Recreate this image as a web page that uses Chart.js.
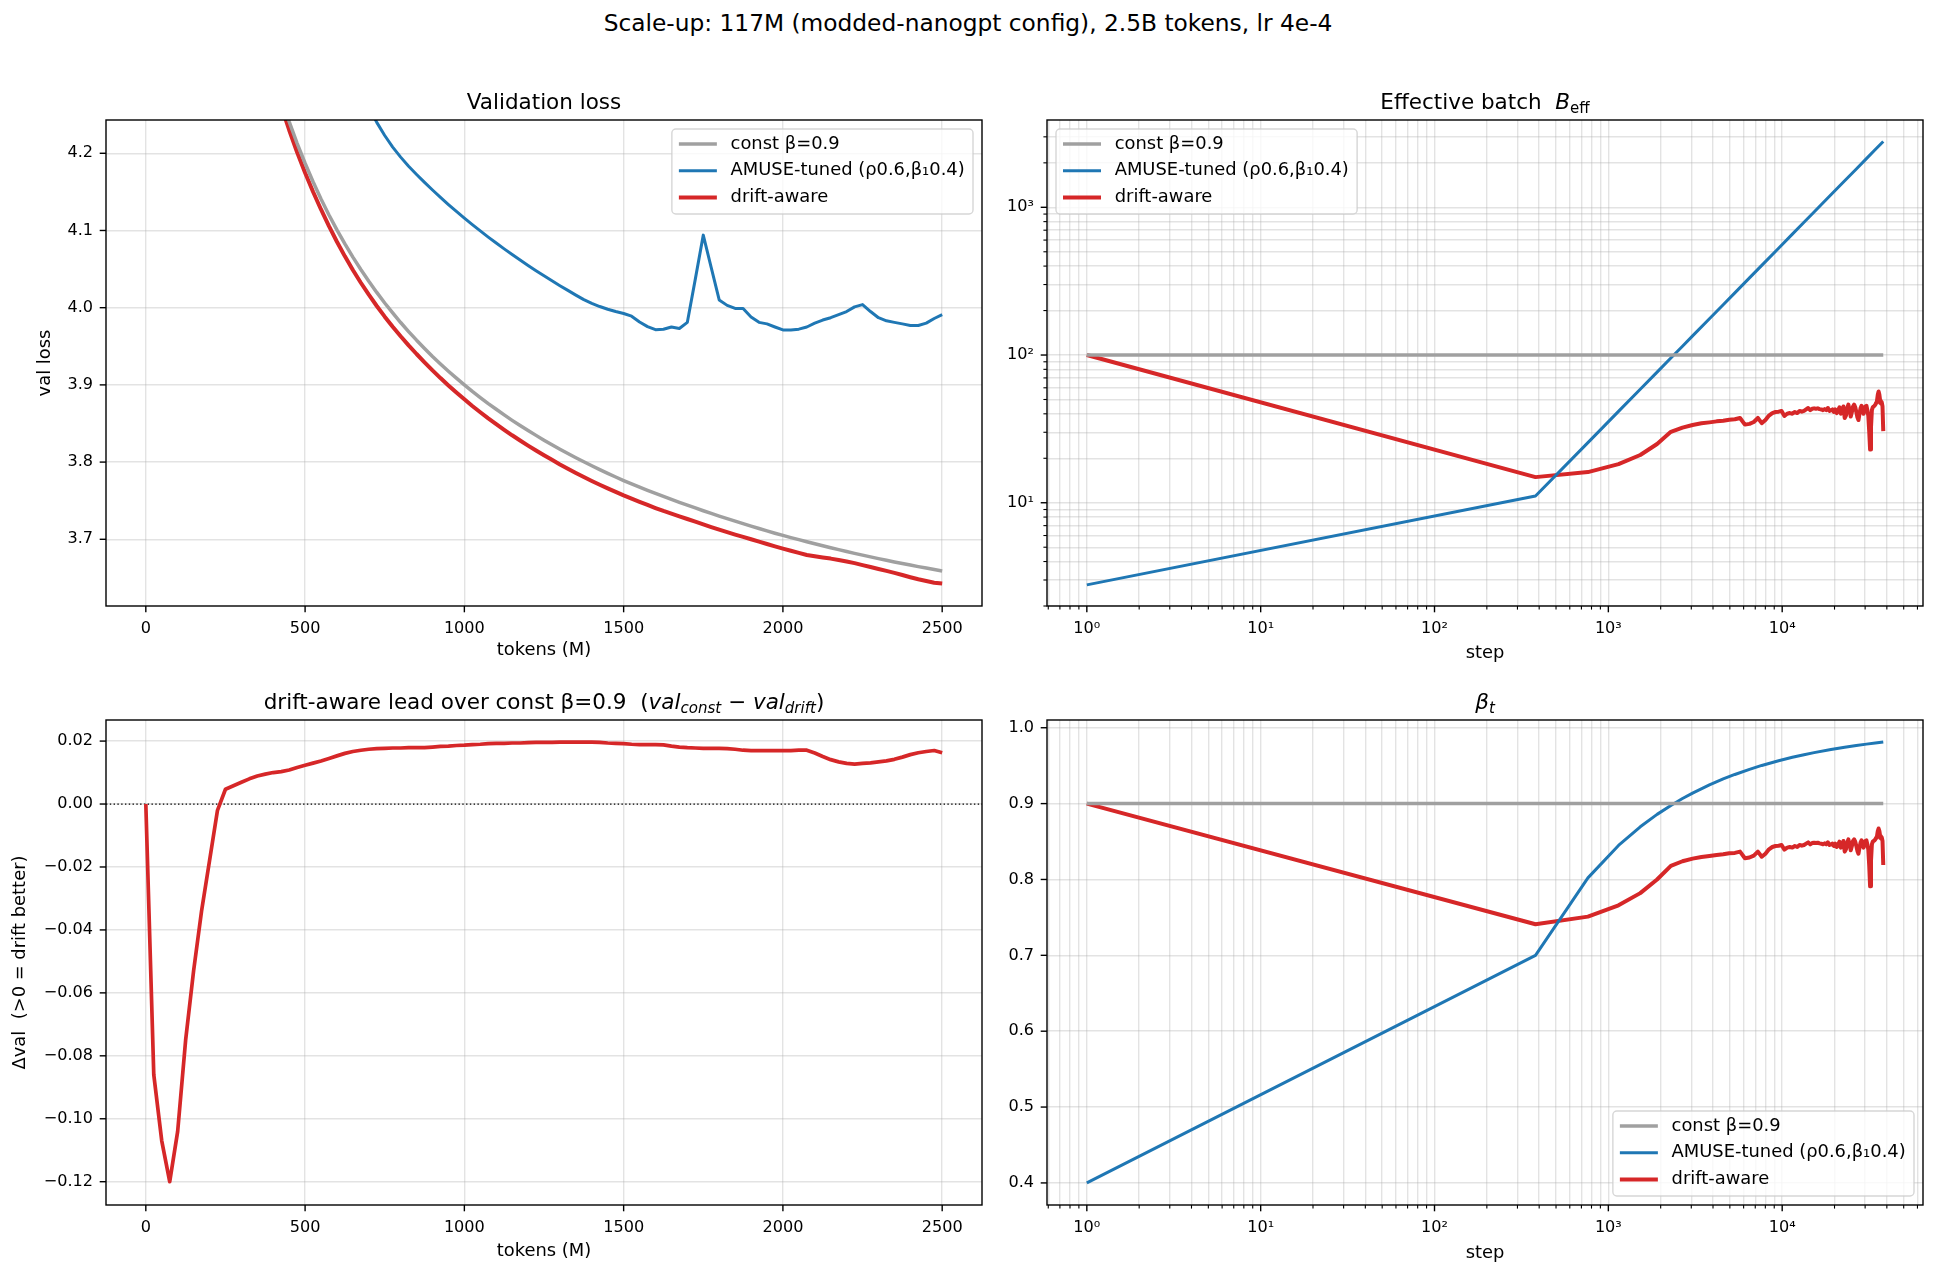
<!DOCTYPE html>
<html>
<head>
<meta charset="utf-8">
<script src="https://cdn.jsdelivr.net/npm/chart.js@4.4.1/dist/chart.umd.min.js"></script>
<style>
  html, body { margin: 0; padding: 0; background: #fff; }
  #fig { position: relative; width: 1936px; height: 1276px; overflow: hidden; background: #fff; }
  #fig canvas { position: absolute; }
  #sup { position: absolute; left: 0; top: 9px; width: 1936px; line-height: 28px; text-align: center;
         font: 23.3px 'DejaVu Sans', sans-serif; color: #000; }
</style>
</head>
<body>
<div id="fig">
  <div id="sup">Scale-up: 117M (modded-nanogpt config), 2.5B tokens, lr 4e-4</div>
  <canvas id="valLoss" width="995" height="670" style="left:0;top:0"></canvas>
  <canvas id="beff" width="941" height="670" style="left:995px;top:0"></canvas>
  <canvas id="lead" width="995" height="606" style="left:0;top:670px"></canvas>
  <canvas id="beta" width="941" height="606" style="left:995px;top:670px"></canvas>
</div>
<script>
// ---- data ----
const tokens = [0,25,50,75,100,125,150,175,200,225,250,275,300,325,350,375,400,425,450,475,
  500,525,550,575,600,625,650,675,700,725,750,775,800,825,850,875,900,925,950,975,
  1000,1025,1050,1075,1100,1125,1150,1175,1200,1225,1250,1275,1300,1325,1350,1375,1400,1425,1450,1475,
  1500,1525,1550,1575,1600,1625,1650,1675,1700,1725,1750,1775,1800,1825,1850,1875,1900,1925,1950,1975,
  2000,2025,2050,2075,2100,2125,2150,2175,2200,2225,2250,2275,2300,2325,2350,2375,2400,2425,2450,2475,2500];

// val loss; early points are far above the visible range
const valConst = [null,null,null,null,null,null,null,null,null,null,null,null,null,null,null,null,
  4.3050,4.2716,4.2410,4.2129,4.1871,4.1631,4.1409,4.1201,4.1007,4.0826,4.0655,4.0494,4.0342,4.0198,4.0061,3.9932,
  3.9808,3.9691,3.9579,3.9472,3.9369,3.9271,3.9177,3.9087,3.9000,3.8916,3.8836,3.8758,3.8684,3.8611,3.8541,3.8474,
  3.8409,3.8346,3.8284,3.8225,3.8167,3.8111,3.8057,3.8004,3.7953,3.7903,3.7854,3.7807,3.7761,3.7717,3.7675,3.7634,
  3.7594,3.7555,3.7517,3.7479,3.7442,3.7406,3.7370,3.7335,3.7301,3.7268,3.7235,3.7203,3.7171,3.7140,3.7109,3.7079,
  3.7050,3.7022,3.6995,3.6968,3.6942,3.6916,3.6891,3.6866,3.6842,3.6818,3.6795,3.6772,3.6750,3.6728,3.6707,3.6686,
  3.6666,3.6646,3.6627,3.6608,3.6590];
const valAmuse = [null,null,null,null,null,null,null,null,null,null,null,null,null,null,null,null,
  null,null,null,null,null,null,null,null,null,null,null,null,
  4.2600,4.2400,4.2230,4.2080,4.1950,4.1831,4.1725,4.1623,4.1524,4.1429,4.1336,4.1247,
  4.1160,4.1076,4.0994,4.0914,4.0837,4.0762,4.0688,4.0617,4.0547,4.0479,4.0413,4.0348,4.0285,4.0224,4.0163,4.0104,
  4.0055,4.0015,3.9980,3.9950,3.9925,3.9890,3.9815,3.9755,3.9715,3.9720,3.9750,3.9730,3.9810,4.0370,4.0940,4.0520,
  4.0100,4.0030,3.9990,3.9990,3.9880,3.9810,3.9790,3.9750,3.9712,3.9712,3.9722,3.9750,3.9800,3.9840,3.9870,3.9910,
  3.9950,4.0010,4.0040,3.9950,3.9870,3.9830,3.9810,3.9790,3.9770,3.9770,3.9800,3.9860,3.9910];
const valDrift = [null,null,null,null,null,null,null,null,null,null,null,null,null,null,null,null,
  4.2950,4.2613,4.2302,4.2013,4.1748,4.1501,4.1272,4.1056,4.0854,4.0665,4.0488,4.0323,4.0168,4.0022,3.9884,3.9754,
  3.9630,3.9512,3.9400,3.9293,3.9188,3.9088,3.8993,3.8901,3.8813,3.8727,3.8646,3.8566,3.8491,3.8418,3.8347,3.8280,
  3.8214,3.8150,3.8088,3.8029,3.7970,3.7914,3.7860,3.7807,3.7756,3.7707,3.7660,3.7614,3.7569,3.7527,3.7486,3.7445,
  3.7405,3.7367,3.7333,3.7298,3.7263,3.7228,3.7193,3.7158,3.7124,3.7092,3.7061,3.7032,3.7001,3.6970,3.6939,3.6909,
  3.6880,3.6852,3.6824,3.6797,3.6780,3.6765,3.6750,3.6732,3.6713,3.6691,3.6666,3.6641,3.6616,3.6591,3.6565,3.6537,
  3.6509,3.6483,3.6460,3.6438,3.6427];

// val_const - val_drift
const leadVal = [0.000,-0.086,-0.107,-0.120,-0.104,-0.075,-0.053,-0.034,-0.018,-0.002,
  0.0047,0.0058,0.0069,0.0080,0.0089,0.0095,0.0100,0.0103,0.0108,0.0116,
  0.0123,0.0130,0.0137,0.0145,0.0153,0.0161,0.0167,0.0171,0.0174,0.0176,
  0.0177,0.0178,0.0178,0.0179,0.0179,0.0179,0.0181,0.0183,0.0184,0.0186,
  0.0187,0.0189,0.0190,0.0192,0.0193,0.0193,0.0194,0.0194,0.0195,0.0196,
  0.0196,0.0196,0.0197,0.0197,0.0197,0.0197,0.0197,0.0196,0.0194,0.0193,
  0.0192,0.0190,0.0189,0.0189,0.0189,0.0188,0.0184,0.0181,0.0179,0.0178,
  0.0177,0.0177,0.0177,0.0176,0.0174,0.0171,0.0170,0.0170,0.0170,0.0170,
  0.0170,0.0170,0.0171,0.0171,0.0162,0.0151,0.0141,0.0134,0.0129,0.0127,
  0.0129,0.0131,0.0134,0.0137,0.0142,0.0149,0.0157,0.0163,0.0167,0.0170,
  0.0163];

// optimizer steps of the eval points (right-hand panels)
const steps = [1,381,763,1144,1526,1907,2289,2670,3052,3433,3815,4196,4578,4959,5341,5722,6104,6485,6866,7248,
  7629,8011,8392,8774,9155,9537,9918,10300,10681,11063,11444,11826,12207,12589,12970,13351,13733,14114,14496,14877,
  15259,15640,16022,16403,16785,17166,17548,17929,18311,18692,19074,19455,19836,20218,20599,20981,21362,21744,22125,22507,
  22888,23270,23651,24033,24414,24796,25177,25558,25940,26321,26703,27084,27466,27847,28229,28610,28992,29373,29755,30136,
  30518,30899,31281,31662,32043,32425,32806,33188,33569,33951,34332,34714,35095,35477,35858,36240,36621,37003,37384,37766,38147];

const betaDrift = [0.900,0.741,0.751,0.766,0.782,0.800,0.818,0.824,0.8275,0.8297,
  0.831,0.8323,0.8332,0.8345,0.835,0.8367,0.828,0.829,0.8315,0.8367,
  0.830,0.834,0.8397,0.8428,0.8441,0.8445,0.8454,0.8393,0.842,0.8428,
  0.842,0.8441,0.8428,0.8454,0.8445,0.8454,0.8472,0.8489,0.8463,0.848,
  0.8485,0.848,0.8485,0.8476,0.8472,0.8463,0.8476,0.8463,0.8489,0.8454,
  0.8463,0.8472,0.8441,0.8472,0.8428,0.8463,0.8498,0.842,0.8454,0.8507,
  0.8367,0.8397,0.8485,0.8528,0.8463,0.8385,0.8441,0.8507,0.8528,0.8498,
  0.8441,0.8376,0.834,0.842,0.8485,0.8515,0.8472,0.842,0.8454,0.8507,
  0.8515,0.8463,0.8397,0.819,0.791,0.8244,0.8463,0.8498,0.8507,0.8515,
  0.8528,0.855,0.857,0.8638,0.8672,0.8638,0.857,0.854,0.8555,0.8507,
  0.819];
const beffDrift = [100,14.91,16.13,18.26,21.04,25.0,30.19,32.28,33.61,34.48,
  35.01,35.56,35.94,36.51,36.73,37.50,33.80,34.20,35.22,37.50,
  34.60,36.29,38.92,40.47,41.14,41.36,41.84,38.72,40.06,40.47,
  40.06,41.14,40.47,41.84,41.36,41.84,42.83,43.80,42.33,43.28,
  43.57,43.28,43.57,43.05,42.83,42.33,43.05,42.33,43.80,41.84,
  42.33,42.83,41.14,42.83,40.47,42.33,44.33,40.06,41.84,44.86,
  37.50,38.92,43.57,46.15,42.33,38.34,41.14,44.86,46.15,44.33,
  41.14,37.92,36.29,40.06,43.57,45.35,42.83,40.06,41.84,44.86,
  45.35,42.33,38.92,30.52,22.89,32.43,42.33,44.33,44.86,45.35,
  46.15,47.56,48.90,53.91,56.70,53.91,48.90,46.91,47.89,44.86,
  30.52];

const amuseSteps = [1,381,763,1144,1526,1907,2289,2670,3052,3815,4578,5341,6485,7629,9537,11444,13351,15259,19074,22888,26703,30518,34332,38147];
const betaAmuse = [0.400,0.700,0.8021,0.8448,0.8694,0.8858,0.8976,0.9067,0.9138,0.9246,0.9325,0.9384,0.9452,0.9503,0.9565,0.9610,0.9645,0.9672,0.9713,0.9743,0.9766,0.9784,0.9798,0.9811];
const beffAmuse = [2.78,11.11,25.53,41.53,58.65,76.65,95.42,114.8,134.7,176.1,219.2,263.7,332.9,404.5,528.7,658.2,791.7,929.5,1214.9,1511.7,1818.5,2135.4,2460.5,2790.6];

const constSteps = [1, 38147];
const betaConst = [0.9, 0.9];
const beffConst = [100, 100];

const labels = ['const β=0.9', 'AMUSE-tuned (ρ0.6,β₁0.4)', 'drift-aware'];

// ticks
const tokenTicks = [0, 500, 1000, 1500, 2000, 2500];
const lossTicks = [3.7, 3.8, 3.9, 4.0, 4.1, 4.2];
const leadTicks = [-0.12, -0.10, -0.08, -0.06, -0.04, -0.02, 0, 0.02];
const betaTicks = [0.4, 0.5, 0.6, 0.7, 0.8, 0.9, 1.0];
const stepTicks = [0.6,0.7,0.8,0.9,1,2,3,4,5,6,7,8,9,10,20,30,40,50,60,70,80,90,
  100,200,300,400,500,600,700,800,900,1000,2000,3000,4000,5000,6000,7000,8000,9000,
  10000,20000,30000,40000,50000,60000];
const beffTicks = [2,3,4,5,6,7,8,9,10,20,30,40,50,60,70,80,90,100,200,300,400,500,600,700,800,900,1000,2000,3000];

// ---- styling ----
const FONT = "'DejaVu Sans', sans-serif";
Chart.defaults.font.family = FONT;
Chart.defaults.color = '#000';
const GRID = 'rgba(176,176,176,0.35)';
const C_CONST = '#a0a0a0', C_AMUSE = '#1f77b4', C_DRIFT = '#d62728';
const W_CONST = 3.5, W_AMUSE = 3.0, W_DRIFT = 4.0;
const SUP = {'0': '⁰', '1': '¹', '2': '²', '3': '³', '4': '⁴'};

function isPow10(v) {
  const e = Math.log10(v);
  return Math.abs(e - Math.round(e)) < 1e-9;
}
const fmtPow = v => isPow10(v) ? '10' + SUP[String(Math.round(Math.log10(v)))] : '';

function series(label, xs, ys, color, width) {
  return {
    label, data: xs.map((x, i) => ({x, y: ys[i]})),
    borderColor: color, backgroundColor: color, borderWidth: width,
    pointRadius: 0, tension: 0, fill: false, borderJoinStyle: 'round', spanGaps: false
  };
}

function axis(o) {
  return {
    type: o.type, min: o.min, max: o.max,
    afterBuildTicks: s => { s.ticks = o.ticks.map(v => ({value: v})); },
    afterFit: s => {
      if (o.width !== undefined) s.width = o.width;
      if (o.height !== undefined) s.height = o.height;
    },
    grid: {color: GRID, lineWidth: 1.4, drawTicks: false},
    border: {display: false},
    ticks: {autoSkip: false, maxRotation: 0, minRotation: 0, padding: 13,
            font: {size: 16.1}, color: '#000', callback: o.fmt},
    title: o.title
      ? {display: true, text: o.title, font: {size: 17.9}, color: '#000', padding: o.titlePad}
      : {display: false}
  };
}

// ---- plugins ----
const frame = {
  id: 'frame',
  afterDatasetsDraw(chart) {
    const {ctx, chartArea: a} = chart;
    ctx.save();
    ctx.strokeStyle = '#000';
    ctx.lineWidth = 1.4;
    ctx.strokeRect(a.left, a.top, a.right - a.left, a.bottom - a.top);
    ctx.restore();
  }
};

const tickMarks = {
  id: 'tickMarks',
  afterDraw(chart) {
    const {ctx, chartArea: a} = chart;
    ctx.save();
    ctx.strokeStyle = '#000';
    ['x', 'y'].forEach(id => {
      const s = chart.scales[id];
      s.ticks.forEach(t => {
        const major = s.type !== 'logarithmic' || isPow10(t.value);
        const len = major ? 6.3 : 3.6;
        ctx.lineWidth = major ? 1.4 : 1.1;
        const p = s.getPixelForValue(t.value);
        ctx.beginPath();
        if (id === 'x') { ctx.moveTo(p, a.bottom); ctx.lineTo(p, a.bottom + len); }
        else { ctx.moveTo(a.left, p); ctx.lineTo(a.left - len, p); }
        ctx.stroke();
      });
    });
    ctx.restore();
  }
};

function richTitle(segs) {
  return {
    id: 'richTitle',
    afterDraw(chart) {
      const {ctx, chartArea: a} = chart;
      const size = 21.5;
      ctx.save();
      const parts = segs.map(s => {
        const fs = s.sub ? size * 0.7 : size;
        const font = (s.it ? 'italic ' : '') + fs + 'px ' + FONT;
        ctx.font = font;
        return {t: s.t, font, sub: s.sub, w: ctx.measureText(s.t).width};
      });
      const total = parts.reduce((acc, p) => acc + p.w, 0);
      let x = (a.left + a.right) / 2 - total / 2;
      const base = a.top - 11.5;
      ctx.fillStyle = '#000';
      ctx.textAlign = 'left';
      ctx.textBaseline = 'alphabetic';
      parts.forEach(p => {
        ctx.font = p.font;
        ctx.fillText(p.t, x, base + (p.sub ? size * 0.2 : 0));
        x += p.w;
      });
      ctx.restore();
    }
  };
}

function legendBox(pos) {
  return {
    id: 'legendBox',
    afterDatasetsDraw(chart) {
      const {ctx, chartArea: a} = chart;
      const items = chart.data.datasets.filter(d => d.label);
      ctx.save();
      ctx.font = '17.9px ' + FONT;
      const tw = Math.max(...items.map(d => ctx.measureText(d.label).width));
      const w = tw + 67, h = 85, m = 9;
      const L = pos === 'ul' ? a.left + m : a.right - m - w;
      const T = pos === 'lr' ? a.bottom - m - h : a.top + m;
      ctx.beginPath();
      ctx.roundRect(L, T, w, h, 4);
      ctx.fillStyle = 'rgba(255,255,255,0.8)';
      ctx.fill();
      ctx.strokeStyle = 'rgba(204,204,204,0.8)';
      ctx.lineWidth = 1.4;
      ctx.stroke();
      items.forEach((d, i) => {
        const y = T + 15 + i * 26.7;
        ctx.beginPath();
        ctx.moveTo(L + 7, y);
        ctx.lineTo(L + 45, y);
        ctx.strokeStyle = d.borderColor;
        ctx.lineWidth = d.borderWidth;
        ctx.stroke();
        ctx.fillStyle = '#000';
        ctx.textAlign = 'left';
        ctx.textBaseline = 'middle';
        ctx.fillText(d.label, L + 58.7, y);
      });
      ctx.restore();
    }
  };
}

const zeroLine = {
  id: 'zeroLine',
  beforeDatasetsDraw(chart) {
    const {ctx, chartArea: a, scales: {y}} = chart;
    const py = y.getPixelForValue(0);
    ctx.save();
    ctx.strokeStyle = '#000';
    ctx.lineWidth = 1.2;
    ctx.setLineDash([1.43, 2.36]);
    ctx.beginPath();
    ctx.moveTo(a.left, py);
    ctx.lineTo(a.right, py);
    ctx.stroke();
    ctx.restore();
  }
};

function baseOptions(padTop, xAxis, yAxis) {
  return {
    responsive: false, animation: false, devicePixelRatio: 1,
    layout: {padding: {left: 0, right: 13, top: padTop, bottom: 0}, autoPadding: false},
    plugins: {legend: {display: false}, tooltip: {enabled: false}},
    scales: {x: xAxis, y: yAxis}
  };
}

// ---- top left: validation loss ----
new Chart(document.getElementById('valLoss'), {
  type: 'line',
  data: {datasets: [
    series(labels[0], tokens, valConst, C_CONST, W_CONST),
    series(labels[1], tokens, valAmuse, C_AMUSE, W_AMUSE),
    series(labels[2], tokens, valDrift, C_DRIFT, W_DRIFT)
  ]},
  options: baseOptions(120,
    axis({type: 'linear', min: -125, max: 2625, ticks: tokenTicks, fmt: v => String(v),
          height: 64, title: 'tokens (M)', titlePad: {top: 0, bottom: 8.6}}),
    axis({type: 'linear', min: 3.6136, max: 4.2431, ticks: lossTicks, fmt: v => v.toFixed(1),
          width: 106, title: 'val loss', titlePad: {top: 34.8, bottom: 0}})),
  plugins: [frame, tickMarks, richTitle([{t: 'Validation loss'}]), legendBox('ur')]
});

// ---- top right: effective batch ----
new Chart(document.getElementById('beff'), {
  type: 'line',
  data: {datasets: [
    series(labels[0], constSteps, beffConst, C_CONST, W_CONST),
    series(labels[1], amuseSteps, beffAmuse, C_AMUSE, W_AMUSE),
    series(labels[2], steps, beffDrift, C_DRIFT, W_DRIFT)
  ]},
  options: baseOptions(120,
    axis({type: 'logarithmic', min: 0.59, max: 64570, ticks: stepTicks, fmt: fmtPow,
          height: 64, title: 'step', titlePad: {top: 0, bottom: 6.3}}),
    axis({type: 'logarithmic', min: 2.0, max: 3900, ticks: beffTicks, fmt: fmtPow, width: 52})),
  plugins: [frame, tickMarks,
    richTitle([{t: 'Effective batch  '}, {t: 'B', it: true}, {t: 'eff', sub: true}]),
    legendBox('ul')]
});

// ---- bottom left: lead of drift-aware over const ----
new Chart(document.getElementById('lead'), {
  type: 'line',
  data: {datasets: [series('', tokens, leadVal, C_DRIFT, 3.7)]},
  options: baseOptions(50,
    axis({type: 'linear', min: -125, max: 2625, ticks: tokenTicks, fmt: v => String(v),
          height: 71, title: 'tokens (M)', titlePad: {top: 0, bottom: 13.5}}),
    axis({type: 'linear', min: -0.1274, max: 0.0267, ticks: leadTicks,
          fmt: v => (Math.abs(v) < 1e-9 ? 0 : v).toFixed(2).replace('-', '\u2212'),
          width: 106, title: 'Δval  (>0 = drift better)', titlePad: {top: 9.5, bottom: 0}})),
  plugins: [zeroLine, frame, tickMarks,
    richTitle([{t: 'drift-aware lead over const β=0.9  ('}, {t: 'val', it: true},
               {t: 'const', it: true, sub: true}, {t: ' \u2212 '}, {t: 'val', it: true},
               {t: 'drift', it: true, sub: true}, {t: ')'}])]
});

// ---- bottom right: beta_t ----
new Chart(document.getElementById('beta'), {
  type: 'line',
  data: {datasets: [
    series(labels[0], constSteps, betaConst, C_CONST, W_CONST),
    series(labels[1], amuseSteps, betaAmuse, C_AMUSE, W_AMUSE),
    series(labels[2], steps, betaDrift, C_DRIFT, W_DRIFT)
  ]},
  options: baseOptions(50,
    axis({type: 'logarithmic', min: 0.59, max: 64570, ticks: stepTicks, fmt: fmtPow,
          height: 71, title: 'step', titlePad: {top: 0, bottom: 11.6}}),
    axis({type: 'linear', min: 0.3709, max: 1.0102, ticks: betaTicks, fmt: v => v.toFixed(1), width: 52})),
  plugins: [frame, tickMarks, richTitle([{t: 'β', it: true}, {t: 't', it: true, sub: true}]), legendBox('lr')]
});
</script>
</body>
</html>
